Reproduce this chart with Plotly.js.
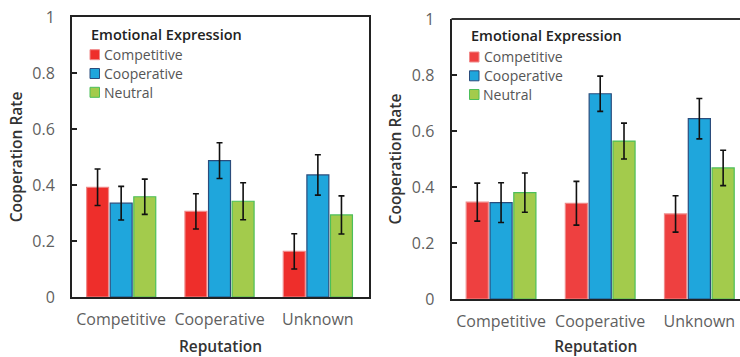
<!DOCTYPE html>
<html>
<head>
<meta charset="utf-8">
<script src="https://cdn.plot.ly/plotly-3.0.1.min.js"></script>
<style>html,body{margin:0;padding:0;background:#fff;overflow:hidden;}#chart{width:740px;height:357px;}</style>
</head>
<body>
<div id="chart"></div>
<script>
// Categories (reputation) and series (emotional expression)
const reputations = ["Competitive", "Cooperative", "Unknown"];
const seriesNames = ["Competitive", "Cooperative", "Neutral"];
const legendTitle = "Emotional Expression";

// Left panel
const leftCompetitive = [0.392, 0.306, 0.163];
const leftCooperative = [0.335, 0.487, 0.436];
const leftNeutral     = [0.358, 0.342, 0.293];
const leftCompetitiveErr = [0.065, 0.063, 0.063];
const leftCooperativeErr = [0.060, 0.064, 0.072];
const leftNeutralErr     = [0.063, 0.066, 0.068];

// Right panel
const rightCompetitive = [0.346, 0.342, 0.304];
const rightCooperative = [0.344, 0.733, 0.644];
const rightNeutral     = [0.380, 0.564, 0.468];
const rightCompetitiveErr = [0.068, 0.078, 0.065];
const rightCooperativeErr = [0.071, 0.063, 0.072];
const rightNeutralErr     = [0.070, 0.064, 0.063];

const yTickVals = [0, 0.2, 0.4, 0.6, 0.8, 1];
const yTickText = ["0", "0.2", "0.4", "0.6", "0.8", "1"];

const fills = {left: ["#EE2E2B", "#1FA6DC", "#A3CB4C"], right: ["#EE4040", "#1FA6DC", "#A3CB4C"]};
const borders = ["#F08A8A", "#2B4C7C", "#4CBF5A"];

function makeTraces(vals, errs, xa, ya, fillSet) {
  return vals.map((v, i) => ({
    type: "bar",
    name: seriesNames[i],
    x: reputations,
    y: v,
    xaxis: xa,
    yaxis: ya,
    showlegend: false,
    marker: {color: fillSet[i], line: {color: borders[i], width: 1.2}},
    error_y: {type: "data", array: errs[i], visible: true, color: "#111", thickness: 1.6, width: 3},
    hoverinfo: "x+y+name"
  }));
}

const traces = [
  ...makeTraces([leftCompetitive, leftCooperative, leftNeutral],
                [leftCompetitiveErr, leftCooperativeErr, leftNeutralErr], "x", "y", fills.left),
  ...makeTraces([rightCompetitive, rightCooperative, rightNeutral],
                [rightCompetitiveErr, rightCooperativeErr, rightNeutralErr], "x2", "y2", fills.right)
];

const FONT = "Open Sans, Noto Sans, sans-serif";
const tickFont = {family: FONT, size: 16, color: "#5f5f5f"};
const titleFont = {family: FONT, size: 15.5, color: "#333", weight: 600};

function xAxis(domain, range, anchor) {
  return {
    domain: domain, range: range, anchor: anchor,
    showline: true, linecolor: "#222", linewidth: 2, mirror: true,
    ticks: "", showgrid: false, zeroline: false,
    tickfont: tickFont, ticklabelstandoff: 7,
    title: {text: "Reputation", font: titleFont, standoff: 15},
    fixedrange: true
  };
}
function yAxis(domain, anchor, mirror) {
  return {
    domain: domain, range: [0, 1], anchor: anchor,
    showline: true, linecolor: "#222", linewidth: 2, mirror: mirror,
    ticks: "inside", ticklen: 5, tickcolor: "#222", tickwidth: 1.5,
    tickvals: yTickVals, ticktext: yTickText,
    showgrid: false, zeroline: false,
    tickfont: tickFont, ticklabelstandoff: 12,
    title: {text: "Cooperation Rate", font: titleFont, standoff: 6},
    fixedrange: true
  };
}

// Legend built as text + swatches (pixel positions converted to paper coords)
const W = 740, H = 357;
const legendFont = {family: FONT, size: 14, color: "#555"};
const legendTitleFont = {family: FONT, size: 14.5, color: "#222", weight: 600};
function legendBlock(titleX, titleY, swX, rowsY, fillSet) {
  const ann = [{
    xref: "paper", yref: "paper", x: titleX / W, y: 1 - titleY / H,
    xanchor: "left", yanchor: "middle", showarrow: false,
    text: legendTitle, font: legendTitleFont
  }];
  const shp = [];
  seriesNames.forEach((n, i) => {
    ann.push({
      xref: "paper", yref: "paper", x: (swX + 12) / W, y: 1 - rowsY[i] / H,
      xanchor: "left", yanchor: "middle", showarrow: false,
      text: n, font: legendFont
    });
    shp.push({
      type: "rect", xref: "paper", yref: "paper",
      x0: swX / W, x1: (swX + 9.5) / W,
      y0: 1 - (rowsY[i] - 5) / H, y1: 1 - (rowsY[i] + 5) / H,
      fillcolor: fillSet[i], line: {color: borders[i], width: 1}
    });
  });
  return {ann, shp};
}
const lgL = legendBlock(89, 34, 90, [54.7, 73.5, 92.3], fills.left);
const lgR = legendBlock(468.5, 36, 469.5, [57, 75.8, 94.5], fills.right);

const layout = {
  width: W, height: H,
  margin: {l: 0, r: 0, t: 0, b: 0},
  paper_bgcolor: "#fff", plot_bgcolor: "#fff",
  barmode: "group", bargap: 0.28, bargroupgap: 0.07,
  showlegend: false,
  xaxis: xAxis([72/W, 369/W], [-0.5, 2.52], "y"),
  yaxis: yAxis([60/H, 340/H], "x", true),
  xaxis2: xAxis([451.5/W, 1], [-0.5, 2.41], "y2"),
  yaxis2: yAxis([58/H, 338/H], "x2", false),
  annotations: [...lgL.ann, ...lgR.ann],
  shapes: [...lgL.shp, ...lgR.shp]
};
layout.xaxis2.mirror = false;
// top border of the right panel (continues past the cropped edge)
layout.shapes.push({type: "line", xref: "x2 domain", yref: "y2 domain", x0: 0, x1: 1, y0: 1, y1: 1,
                    line: {color: "#333", width: 2}});

Plotly.newPlot("chart", traces, layout, {displayModeBar: false, responsive: false});
</script>
</body>
</html>
